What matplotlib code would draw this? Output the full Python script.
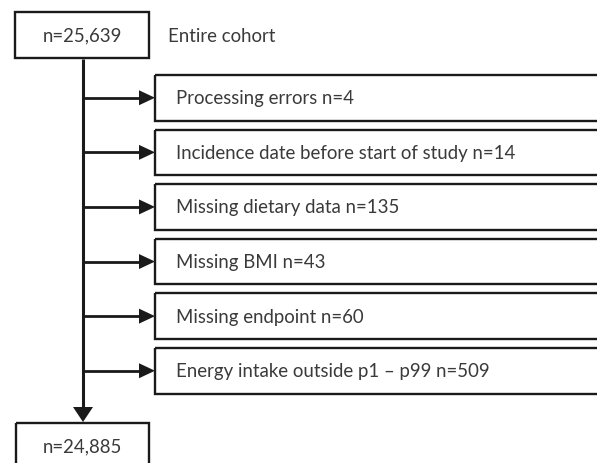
import matplotlib
matplotlib.use("Agg")
import matplotlib.pyplot as plt
from matplotlib.patches import Rectangle, Polygon

# flow chart content
start_n = "25,639"
start_label = "Entire cohort"
excl_labels = [
    "Processing errors",
    "Incidence date before start of study",
    "Missing dietary data",
    "Missing BMI",
    "Missing endpoint",
    "Energy intake outside p1 \u2013 p99",
]
excl_counts = [4, 14, 135, 43, 60, 509]
final_n = "24,885"

COLOR_LINE = "#1a1a1a"
COLOR_TEXT = "#3a3a3a"
FONT = ["Lato", "DejaVu Sans"]
FS = 13.4

W, H = 597, 464
fig = plt.figure(figsize=(W / 100, H / 100), dpi=100)
ax = fig.add_axes([0, 0, 1, 1])
ax.set_xlim(0, W)
ax.set_ylim(H, 0)
ax.axis("off")

spine_x = 83
box_lw = 1.7


def arrow_head(x_tip, y_tip, direction):
    if direction == "right":
        pts = [(x_tip, y_tip), (x_tip - 16, y_tip - 7.5), (x_tip - 16, y_tip + 7.5)]
    else:
        pts = [(x_tip, y_tip), (x_tip - 10, y_tip - 15), (x_tip + 10, y_tip - 15)]
    ax.add_patch(Polygon(pts, closed=True, facecolor=COLOR_LINE, edgecolor="none"))


def label(x, y, s, ha="left"):
    ax.text(x, y, s, ha=ha, va="center", fontsize=FS,
            color=COLOR_TEXT, family=FONT)


# top box
ax.add_patch(Rectangle((15, 13), 134, 46, fill=False, edgecolor=COLOR_LINE, linewidth=box_lw))
label(82, 36, f"n={start_n}", ha="center")
label(168, 36, start_label)

# main vertical line
ax.plot([spine_x, spine_x], [60, 410], color=COLOR_LINE, linewidth=2.2, solid_capstyle="butt")
arrow_head(spine_x, 423, "down")

# exclusion boxes
box_left, box_top0, box_h, step = 155, 76, 45.5, 54.6
for i, (lab, cnt) in enumerate(zip(excl_labels, excl_counts)):
    top = box_top0 + i * step
    yc = top + box_h / 2
    ax.add_patch(Rectangle((box_left, top), 460, box_h, fill=False,
                           edgecolor=COLOR_LINE, linewidth=box_lw))
    ax.plot([spine_x, box_left - 15], [yc, yc], color=COLOR_LINE, linewidth=2.0,
            solid_capstyle="butt")
    arrow_head(box_left, yc, "right")
    label(176, yc, f"{lab} n={cnt}")

# final box
ax.add_patch(Rectangle((16, 424), 133, 60, fill=False, edgecolor=COLOR_LINE, linewidth=box_lw))
label(82, 447, f"n={final_n}", ha="center")

fig.savefig("out.png", dpi=100, facecolor="white")
